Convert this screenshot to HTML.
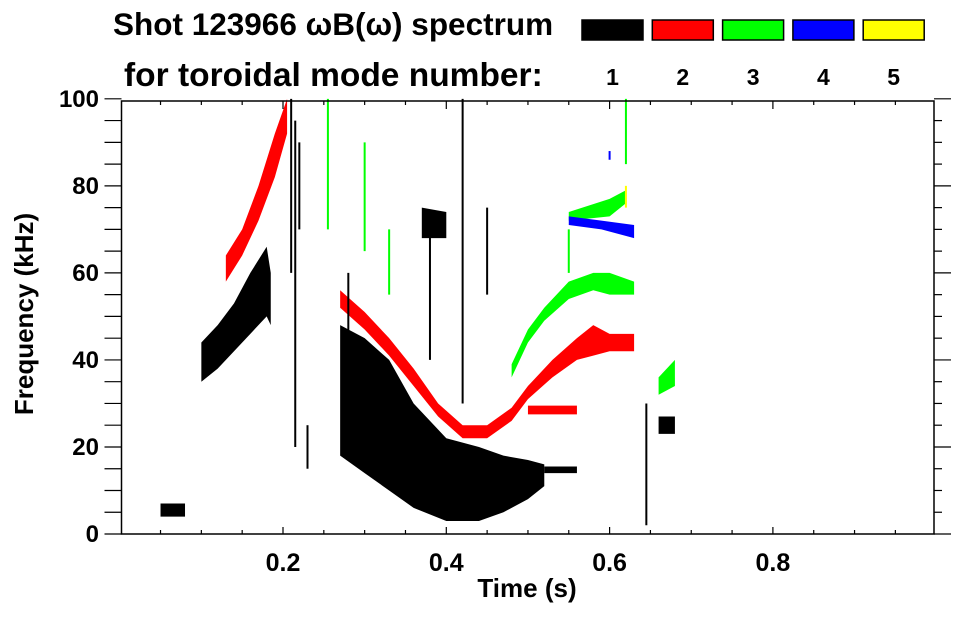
<!DOCTYPE html>
<html><head><meta charset="utf-8"><style>
body{margin:0;background:#fff;width:963px;height:615px;overflow:hidden}
svg{font-family:"Liberation Sans",sans-serif;font-weight:bold}
</style></head><body>
<svg id="c" width="963" height="615">
<text x="113" y="35" font-size="31.5">Shot 123966 ωB(ω) spectrum</text>
<text x="124" y="86" font-size="33.5">for toroidal mode number:</text>
<g id="legend"></g>
<g id="marks"></g>
<g id="axes"></g>
<text x="527" y="597" font-size="26" text-anchor="middle">Time (s)</text>
<text transform="translate(33,314) rotate(-90)" font-size="26" text-anchor="middle">Frequency (kHz)</text>
</svg>
<script>
const modeLabels=["1","2","3","4","5"];
const modeColors=["#000","#f00","#0f0","#00f","#ff0"];
const xTicks=[0.2,0.4,0.6,0.8];
const yTicks=[0,20,40,60,80,100];
// bands: [time, lowFreq, highFreq]
const band1a=[[0.10,35,44],[0.12,38,48],[0.14,42,53],[0.16,46,60],[0.18,50,66],[0.185,48,60]];
const band1b=[[0.27,18,48],[0.30,14,45],[0.33,10,40],[0.36,6,30],[0.40,3,22],[0.44,3,20],[0.47,5,18],[0.50,8,17],[0.52,11,16]];
const band1c=[[0.52,14,15.5],[0.56,14,15.5]];
const band1d=[[0.05,4,7],[0.08,4,7]];
const band1e=[[0.37,68,75],[0.40,68,74]];
const band1f=[[0.66,23,27],[0.68,23,27]];
const band2a=[[0.13,58,64],[0.15,64,70],[0.17,72,80],[0.19,82,92],[0.205,92,100]];
const band2b=[[0.27,52,56],[0.30,47,51],[0.33,41,45],[0.36,34,38],[0.39,27,30],[0.42,22,25],[0.45,22,25],[0.48,26,29],[0.50,31,34],[0.53,36,40],[0.56,40,45],[0.58,41,48],[0.60,42,46],[0.63,42,46]];
const band2c=[[0.50,27.5,29.5],[0.56,27.5,29.5]];
const band3a=[[0.48,36,39],[0.50,44,47],[0.52,49,52],[0.55,54,58],[0.58,56,60],[0.60,55,60],[0.63,55,58]];
const band3b=[[0.55,72,74],[0.60,73,77],[0.62,76,79]];
const band3c=[[0.66,32,36],[0.68,34,40]];
const band4a=[[0.55,71,73],[0.59,70,72],[0.63,68,71]];
const bands=[[band1a,0],[band1b,0],[band1c,0],[band1d,0],[band1e,0],[band1f,0],[band2a,1],[band2b,1],[band2c,1],[band3a,2],[band3b,2],[band3c,2],[band4a,3]];
// vertical strokes: [time, low, high, mode]
const strokes=[[0.21,60,100,0],[0.215,20,95,0],[0.22,70,90,0],[0.42,30,100,0],[0.645,2,30,0],[0.23,15,25,0],[0.28,25,60,0],[0.38,40,70,0],[0.45,55,75,0],[0.255,70,100,2],[0.30,65,90,2],[0.33,55,70,2],[0.55,60,70,2],[0.62,85,100,2],[0.60,86,88,3],[0.62,75,80,4]];
const svg=document.getElementById('c');
const NS="http://www.w3.org/2000/svg";
const X0=121.5,X1=934,Y0=534,Y1=101;
function xs(t){return 119.7+t*816.5;}
function ys(f){return Y0-(f/99.5)*(Y0-Y1);}
function mk(tag,attrs,parent){const e=document.createElementNS(NS,tag);for(const k in attrs)e.setAttribute(k,attrs[k]);parent.appendChild(e);return e;}
const leg=document.getElementById('legend');
modeLabels.forEach((l,i)=>{
 const x=582+i*70.3;
 const r=mk('rect',{x:x,y:20,width:61,height:20,fill:modeColors[i],stroke:'#000','stroke-width':1.5},leg);
 
 
 const t=mk('text',{x:x+30.5,y:85,'font-size':23,'text-anchor':'middle'},leg);
 t.textContent=l;
 
 
});
const marks=document.getElementById('marks');
bands.forEach(([b,m],bi)=>{
 let pts=b.map(p=>xs(p[0])+','+ys(p[2]));
 pts=pts.concat(b.slice().reverse().map(p=>xs(p[0])+','+ys(p[1])));
 const p=mk('polygon',{points:pts.join(' '),fill:modeColors[m]},marks);
 
 
});
strokes.forEach(s=>{
 const l=mk('line',{x1:xs(s[0]),x2:xs(s[0]),y1:ys(s[1]),y2:ys(s[2]),stroke:modeColors[s[3]],'stroke-width':2},marks);
 
 
});
const ax=document.getElementById('axes');
mk('rect',{x:X0,y:Y1,width:X1-X0,height:Y0-Y1,fill:'none',stroke:'#000','stroke-width':1.5},ax);
for(let i=1;i<20;i++){const t=i*0.05,x=xs(t);const maj=i%4==0;
 mk('line',{x1:x,x2:x,y1:Y0,y2:Y0-(maj?7:4),stroke:'#000','stroke-width':1.2},ax);
 mk('line',{x1:x,x2:x,y1:Y1,y2:Y1+(maj?8:4),stroke:'#000','stroke-width':1.2},ax);}
for(let i=0;i<=20;i++){const y=ys(i*5);const maj=i%4==0;
 mk('line',{x1:X0,x2:X0-17,y1:y,y2:y,stroke:'#000','stroke-width':1.2},ax);
 mk('line',{x1:X1,x2:X1+(maj?17:8),y1:y,y2:y,stroke:'#000','stroke-width':1.2},ax);}
xTicks.forEach(v=>{const t=mk('text',{x:xs(v),y:571,'font-size':25,'text-anchor':'middle'},ax);t.textContent=v.toFixed(1);
 
 });
yTicks.forEach(v=>{const t=mk('text',{x:99,y:ys(v)+8,'font-size':24,'text-anchor':'end'},ax);t.textContent=v;
 
 });
</script>
</body></html>
